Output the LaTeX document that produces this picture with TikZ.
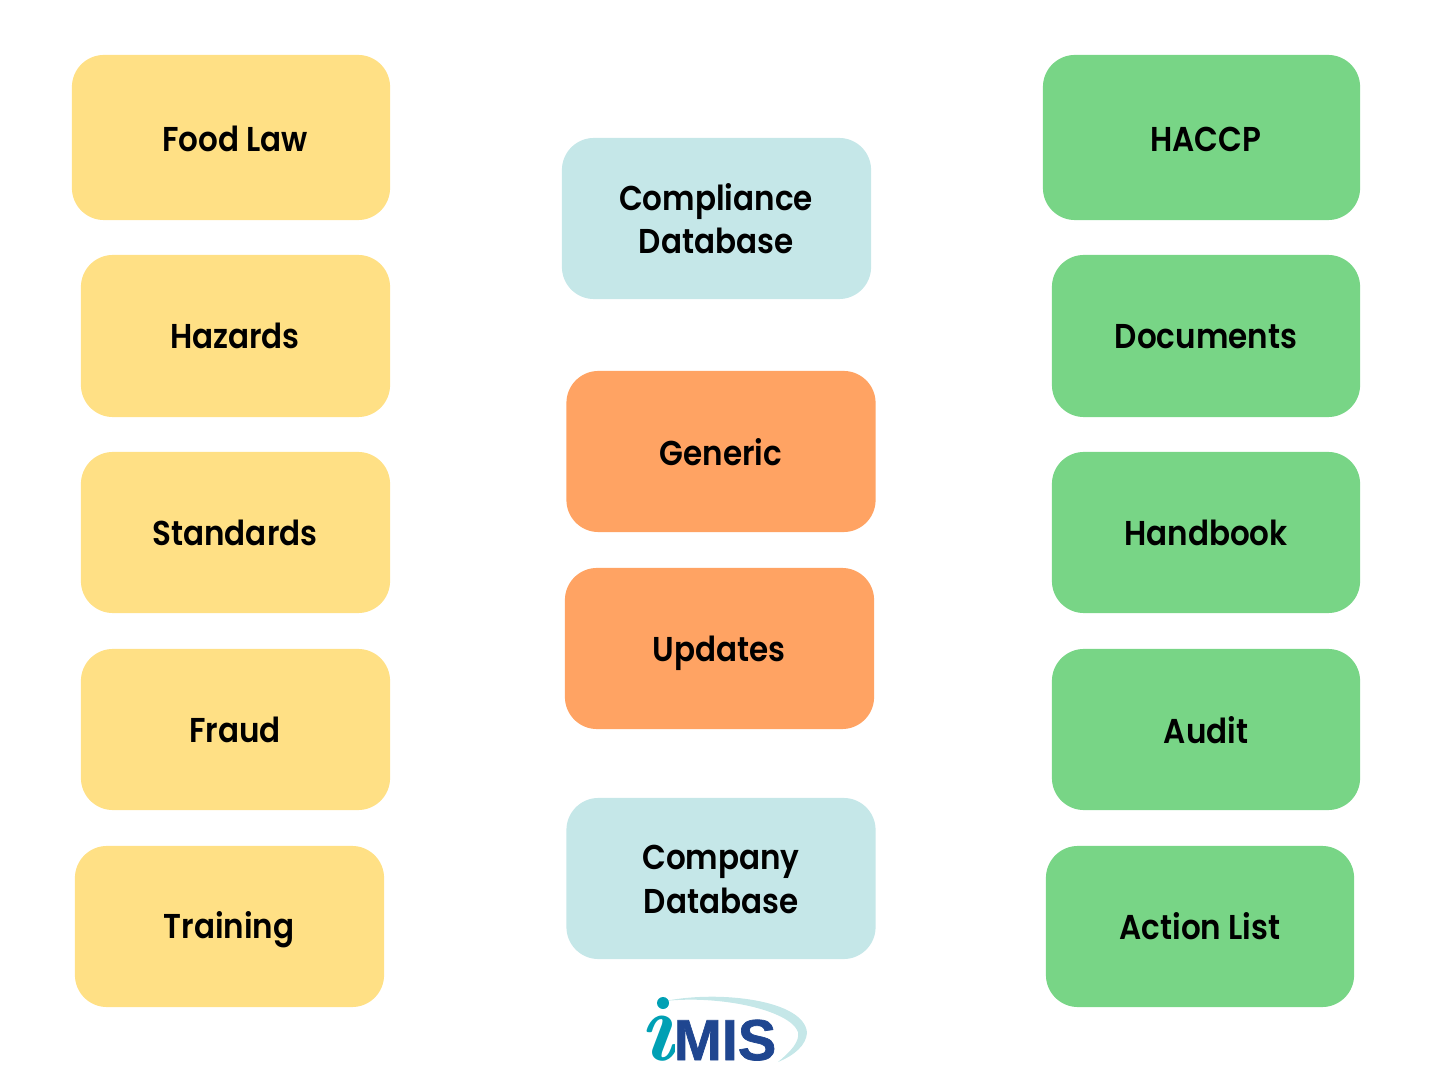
\documentclass[tikz,border=0pt]{standalone}
\usepackage{fontspec}
\setmainfont{Poppins}[BoldFont=* SemiBold, FakeStretch=0.9]
\newfontfamily\logosans{Liberation Sans}[FakeBold=1.2]
\newfontfamily\logoserif{Latin Modern Roman}
\definecolor{foodyellow}{HTML}{FFE085}
\definecolor{docgreen}{HTML}{78D586}
\definecolor{dbblue}{HTML}{C5E7E8}
\definecolor{genorange}{HTML}{FFA363}
\definecolor{logoteal}{HTML}{00A0B4}
\definecolor{logoblue}{HTML}{1F4690}
\tikzset{
  box/.style={inner sep=0pt, rounded corners=0.32cm, minimum width=3.09cm, minimum height=1.61cm},
  boxtext/.style={align=center, inner sep=0pt, text depth=0pt, font=\fontsize{9.8}{12.5}\selectfont\bfseries}
}
\begin{document}
\begin{tikzpicture}[x=0.01cm, y=-0.01cm]
    \useasboundingbox (0,0) rectangle (1440,1080);
    % left column
    \node[box, fill=foodyellow, minimum width=3.18cm, minimum height=1.65cm] (foodlaw) at (231,137.5) {};
    \node[box, fill=foodyellow, minimum height=1.62cm] (hazards) at (235.5,336) {};
    \node[box, fill=foodyellow] (standards) at (235.5,532.5) {};
    \node[box, fill=foodyellow] (fraud) at (235.5,729.5) {};
    \node[box, fill=foodyellow] (training) at (229.5,926.5) {};
    \node[boxtext] (foodlawtext) at (235,139) {Food Law};
    \node[boxtext] (hazardstext) at (235,336) {Hazards};
    \node[boxtext] (standardstext) at (235,533) {Standards};
    \node[boxtext] (fraudtext) at (235,730) {Fraud};
    \node[boxtext] (trainingtext) at (229,925) {Training};
    % middle column
    \node[box, fill=dbblue] (compliance) at (716.5,218.5) {};
    \node[box, fill=genorange] (generic) at (721,451.5) {};
    \node[box, fill=genorange] (updates) at (719.5,648.5) {};
    \node[box, fill=dbblue] (company) at (721,878.5) {};
    \node[boxtext] (compliancetext) at (716,218.5) {Compliance\\Database};
    \node[boxtext] (generictext) at (721,451.5) {Generic};
    \node[boxtext] (updatestext) at (719,649) {Updates};
    \node[boxtext] (companytext) at (721,879) {Company\\Database};
    % right column
    \node[box, fill=docgreen, minimum width=3.17cm, minimum height=1.65cm] (haccp) at (1201.5,137.5) {};
    \node[box, fill=docgreen, minimum width=3.08cm, minimum height=1.62cm] (documents) at (1206,336) {};
    \node[box, fill=docgreen, minimum width=3.08cm] (handbook) at (1206,532.5) {};
    \node[box, fill=docgreen, minimum width=3.08cm] (audit) at (1206,729.5) {};
    \node[box, fill=docgreen, minimum width=3.08cm] (actionlist) at (1200,926.5) {};
    \node[boxtext] (haccptext) at (1206,139) {HACCP};
    \node[boxtext] (documentstext) at (1206,336) {Documents};
    \node[boxtext] (handbooktext) at (1206,533) {Handbook};
    \node[boxtext] (audittext) at (1206,730) {Audit};
    \node[boxtext] (actionlisttext) at (1200,926) {Action List};
    % logo
    \fill[dbblue] (665,1001) .. controls (720,990) and (805,1000) .. (807,1033)
        .. controls (806,1045) and (795,1055) .. (778,1062)
        .. controls (790,1052) and (800,1042) .. (798,1032)
        .. controls (790,1010) and (720,995) .. (665,1001);
    \begin{scope}
        \clip (630,1013) rectangle (674,1070);
        \node[inner sep=0pt, text=logoteal, anchor=base, font=\fontsize{28}{28}\selectfont\logoserif\bfseries\itshape] (logoi) at (657,1060) {i};
    \end{scope}
    \fill[logoteal] (663,1003) circle (6);
    \node[inner sep=0pt, text=logoblue, anchor=base, font=\fontsize{16.4}{16.4}\selectfont\logosans\bfseries] (logomis) at (725,1060) {MIS};
\end{tikzpicture}
\end{document}
